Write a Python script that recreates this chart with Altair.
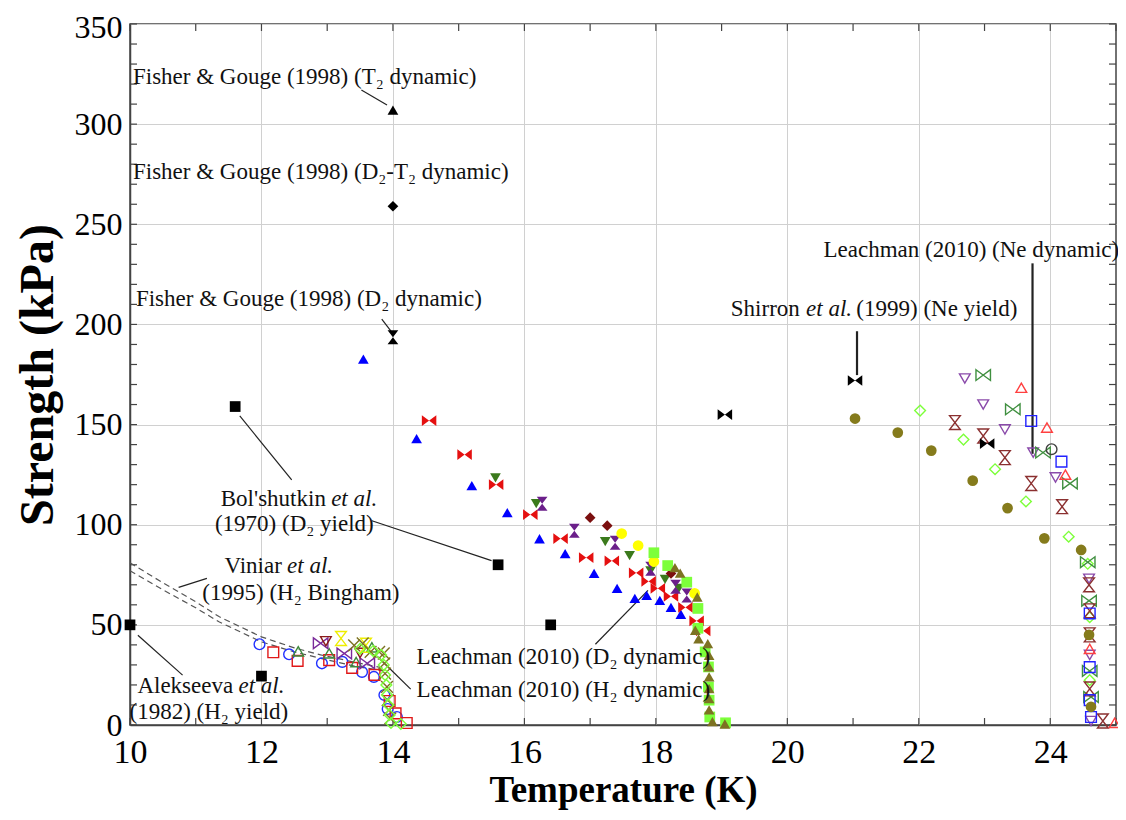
import altair as alt
import pandas as pd

# ---------------- axis ticks ----------------
X_LABEL_TICKS = [10, 12, 14, 16, 18, 20, 22, 24]
Y_LABEL_TICKS = [0, 50, 100, 150, 200, 250, 300, 350]
X_MINOR = list(range(10, 26))
Y_MINOR = list(range(0, 351, 10))

# ---------------- shapes ----------------
BOWTIE = "M-1.35,-1L1.35,1L1.35,-1L-1.35,1Z"
HOURGLASS = "M-1,-1.3L1,-1.3L-1,1.3L1,1.3Z"
XCROSS = "M-1.1,-1.1L1.1,1.1M1.1,-1.1L-1.1,1.1"

# ---------------- single-point / yield data (black) ----------------
FISHER_T2_T = [14.0]; FISHER_T2_S = [307]
FISHER_DT_T = [14.0]; FISHER_DT_S = [259]
FISHER_D2_T = [14.0]; FISHER_D2_S = [193.6]
BOLSHUTKIN_T = [11.6, 15.6, 16.4]; BOLSHUTKIN_S = [159, 80, 50]
ALEKSEEVA_T = [10.0, 12.0]; ALEKSEEVA_S = [50, 24.4]
SHIRRON_T = [19.05, 21.03, 23.04]; SHIRRON_S = [155, 172, 140.5]

# ---------------- D2 dynamic (filled) ----------------
D2_BLUE_T = [13.55, 14.36, 15.2, 15.74, 16.23, 16.62, 17.06, 17.41, 17.68, 17.86, 18.06, 18.23, 18.38]
D2_BLUE_S = [182.7, 143, 119.5, 106, 93, 85.6, 75.7, 68.2, 63.2, 64.7, 62.2, 58.7, 55.3]
D2_RED_T = [14.55, 15.09, 15.57, 16.09, 16.55, 16.94, 17.33, 17.7, 17.89, 18.03, 18.23, 18.45, 18.62, 18.72]
D2_RED_S = [152, 135, 120, 105, 93, 83.6, 82, 76, 71.7, 68.2, 64.2, 58.7, 52, 47]
D2_DKGREEN_T = [15.56, 16.18, 17.23, 17.6, 17.92, 18.14, 18.35]
D2_DKGREEN_S = [123.4, 110.5, 91.6, 84.6, 77, 72.7, 68.2]
D2_PURPLE_T = [16.27, 16.76, 17.38, 17.92, 18.3, 18.47]
D2_PURPLE_S = [110.5, 97, 91, 78, 69, 64.7]
D2_MAROON_T = [17.0, 17.26, 18.23]
D2_MAROON_S = [103.5, 99.5, 75.7]
D2_YELLOW_T = [17.48, 17.73, 17.97, 18.59]
D2_YELLOW_S = [95.6, 89.6, 81.6, 65.7]
D2_LTGREEN_T = [17.97, 18.18, 18.47, 18.64, 18.64, 18.75, 18.8, 18.8, 18.81, 18.82, 19.06]
D2_LTGREEN_S = [86, 79.6, 71.3, 58.2, 48.3, 36.5, 29, 19, 12.4, 4, 1.1]
D2_OLIVE_T = [18.29, 18.37, 18.63, 18.6, 18.65, 18.79, 18.81, 18.81, 18.81, 18.81, 18.81, 18.81, 18.86, 19.05]
D2_OLIVE_S = [78.6, 75.8, 63.9, 47.3, 43, 40.6, 34.8, 29, 24, 18.2, 13.2, 7.5, 1.7, 0.5]

# ---------------- H2 dynamic (open) ----------------
H2_BLUE_T = [11.97, 12.42, 12.92, 13.23, 13.53, 13.71, 13.87, 13.92, 14.06]
H2_BLUE_S = [40.3, 35.3, 30.8, 31.5, 26.5, 24, 15, 8, 4]
H2_RED_T = [12.18, 12.55, 13.03, 13.38, 13.72, 13.95, 14.04, 14.21]
H2_RED_S = [36.3, 32, 32.4, 28.5, 25, 12, 5.8, 1]
H2_GREEN_T = [12.56, 13.03, 13.44, 13.68]
H2_GREEN_S = [36.8, 35.8, 31.4, 38.8]
H2_PURPLE_T = [12.9, 13.26, 13.61]
H2_PURPLE_S = [40.8, 35.7, 30.8]
H2_MAROON_T = [12.98, 13.5]
H2_MAROON_S = [41.8, 36]
H2_YELLOW_T = [13.21, 13.59]
H2_YELLOW_S = [43.2, 39.8]
H2_LTGREEN_T = [13.5, 13.7, 13.82, 13.86, 13.88, 13.9, 13.91, 13.93, 13.95, 13.97, 14.12]
H2_LTGREEN_S = [38, 37, 35, 30, 25, 20, 15, 10, 5, 1, 0.5]
H2_OLIVE_T = [13.41, 13.54, 13.66, 13.79, 13.86, 13.87, 13.88, 13.91, 13.92, 13.94, 13.96]
H2_OLIVE_S = [39.8, 40.7, 36.5, 36.5, 35.7, 30.8, 25.7, 19, 12.4, 7.5, 3.3]

# ---------------- Ne dynamic ----------------
NE_OLIVE_T = [21.03, 21.68, 22.19, 22.82, 23.35, 23.91, 24.47, 24.59, 24.62]
NE_OLIVE_S = [153, 146, 137, 122, 108.3, 93.2, 87.4, 45, 9.1]
NE_LTGREEN_T = [22.02, 22.68, 23.16, 23.63, 24.28, 24.57, 24.6, 24.6]
NE_LTGREEN_S = [157, 142.5, 127.7, 111.6, 94, 80.5, 53.8, 22.4]
NE_PURPLE_T = [22.7, 22.98, 23.31, 23.74, 24.08, 24.59, 24.6, 24.62]
NE_PURPLE_S = [173, 160, 147.6, 136, 123.6, 73, 35, 2]
NE_GREEN_T = [22.98, 23.43, 23.89, 24.3, 24.57, 24.59, 24.6, 24.62]
NE_GREEN_S = [174.7, 157.6, 136, 120.6, 81.3, 62, 27, 14]
NE_BROWN_T = [22.55, 22.98, 23.31, 23.71, 24.18, 24.59, 24.6, 24.6, 24.6, 24.8]
NE_BROWN_S = [151, 144.3, 133.5, 120.6, 109, 70, 57, 45, 18, 2]
NE_RED_T = [23.56, 23.95, 24.23, 24.6, 24.98]
NE_RED_S = [168.4, 148.5, 125, 38, 1.1]
NE_BLUE_T = [23.71, 24.17, 24.6, 24.6, 24.6, 24.62]
NE_BLUE_S = [151.8, 131.5, 55.7, 28.9, 12.4, 4]
NE_GRAY_T = [24.02]
NE_GRAY_S = [137.7]

# ---------------- Viniar Bingham curves ----------------
VINIAR_T = [10, 10.5, 11, 11.36, 12, 12.5, 12.9, 13.4, 13.85]
VINIAR_UPPER_S = [81, 71, 61.5, 54, 44, 38.5, 35, 31.5, 28.5]
VINIAR_LOWER_S = [77, 67.5, 58.5, 51.4, 41.5, 36.5, 33.3, 29.5, 27]

# ---------------- leader lines ----------------
LEADER_T1 = [13.52, 13.83, 11.67, 13.68, 10.74, 10.12, 17.08, 14.27, 21.06, 23.73]
LEADER_S1 = [317.1, 202.6, 154.3, 102.0, 68.7, 44.8, 40.3, 17.9, 196.6, 230.5]
LEADER_T2 = [13.91, 13.97, 12.46, 15.5, 11.17, 10.8, 17.88, 13.76, 21.06, 23.73]
LEADER_S2 = [309.6, 196.6, 122.4, 82.1, 73.2, 24.9, 67.2, 34.3, 174.7, 135.4]
LEADER_W = [1.2, 1.2, 1.2, 1.2, 1.2, 1.2, 1.2, 1.2, 2.2, 2.2]

# ---------------- annotation texts ----------------
TXT = ["Fisher & Gouge (1998) (T₂ dynamic)",
       "Fisher & Gouge (1998) (D₂-T₂ dynamic)",
       "Fisher & Gouge (1998) (D₂ dynamic)",
       "Bol'shutkin", "et al.", "(1970) (D₂ yield)",
       "Viniar", "et al.", "(1995) (H₂ Bingham)",
       "Alekseeva", "et al.", "(1982) (H₂ yield)",
       "Leachman (2010) (D₂ dynamic)",
       "Leachman (2010) (H₂ dynamic)",
       "Shirron", "et al.", "(1999) (Ne yield)",
       "Leachman (2010) (Ne dynamic)"]
TXT_T = [10.045, 10.045, 10.09, 12.98, 13.06, 12.5, 12.31, 12.39, 12.6, 11.57, 11.65, 11.2,
         14.36, 14.36, 20.19, 20.285, 21.05, 20.55]
TXT_S = [323.5, 276.3, 212.5, 113, 113, 100.5, 79.6, 79.6, 65.7, 19.6, 19.6, 6.4,
         33.8, 17.4, 207.6, 207.6, 207.6, 237.4]
TXT_ALIGN = ["left", "left", "left", "right", "left", "center", "right", "left", "center",
             "right", "left", "center", "left", "left", "right", "left", "left", "left"]
TXT_ITALIC = [False, False, False, False, True, False, False, True, False,
              False, True, False, False, False, False, True, False, False]

FONT = "Liberation Serif"
W, H = 986, 701

SERIES = [
    (NE_OLIVE_T, NE_OLIVE_S, "#857b1c", "circle", True),
    (NE_LTGREEN_T, NE_LTGREEN_S, "#7dff3a", "diamond", False),
    (NE_PURPLE_T, NE_PURPLE_S, "#8a4aaa", "triangle-down", False),
    (NE_GREEN_T, NE_GREEN_S, "#3f8f3f", BOWTIE, False),
    (NE_BROWN_T, NE_BROWN_S, "#8b3030", HOURGLASS, False),
    (NE_RED_T, NE_RED_S, "#ff4040", "triangle-up", False),
    (NE_BLUE_T, NE_BLUE_S, "#2222ff", "square", False),
    (NE_GRAY_T, NE_GRAY_S, "#404040", "circle", False),
    (H2_BLUE_T, H2_BLUE_S, "#2030ff", "circle", False),
    (H2_RED_T, H2_RED_S, "#e01818", "square", False),
    (H2_GREEN_T, H2_GREEN_S, "#3d8a3d", "triangle-up", False),
    (H2_PURPLE_T, H2_PURPLE_S, "#7a2a9a", BOWTIE, False),
    (H2_MAROON_T, H2_MAROON_S, "#8b1a1a", "triangle-down", False),
    (H2_YELLOW_T, H2_YELLOW_S, "#eeee00", HOURGLASS, False),
    (H2_OLIVE_T, H2_OLIVE_S, "#7d7222", XCROSS, False),
    (H2_LTGREEN_T, H2_LTGREEN_S, "#7dff3a", "diamond", False),
    (D2_BLUE_T, D2_BLUE_S, "#0000ff", "triangle-up", True),
    (D2_RED_T, D2_RED_S, "#e51010", BOWTIE, True),
    (D2_DKGREEN_T, D2_DKGREEN_S, "#3b7a1c", "triangle-down", True),
    (D2_PURPLE_T, D2_PURPLE_S, "#6b1f8a", HOURGLASS, True),
    (D2_MAROON_T, D2_MAROON_S, "#7b0f0f", "diamond", True),
    (D2_YELLOW_T, D2_YELLOW_S, "#ffff00", "circle", True),
    (D2_LTGREEN_T, D2_LTGREEN_S, "#7dff3a", "square", True),
    (D2_OLIVE_T, D2_OLIVE_S, "#7d7222", "triangle-up", True),
    (FISHER_T2_T, FISHER_T2_S, "#000000", "triangle-up", True),
    (FISHER_DT_T, FISHER_DT_S, "#000000", "diamond", True),
    (FISHER_D2_T, FISHER_D2_S, "#000000", HOURGLASS, True),
    (BOLSHUTKIN_T, BOLSHUTKIN_S, "#000000", "square", True),
    (ALEKSEEVA_T, ALEKSEEVA_S, "#000000", "square", True),
    (SHIRRON_T, SHIRRON_S, "#000000", BOWTIE, True),
]

rows = []
for order, (ts, ss, col, shp, filled) in enumerate(SERIES):
    for t, s in zip(ts, ss):
        rows.append({"T": t, "S": s, "color": col, "shape": shp, "filled": filled, "o": order})
pts = pd.DataFrame(rows)

xscale = alt.Scale(domain=[10, 25], nice=False, zero=False)
yscale = alt.Scale(domain=[0, 350], nice=False)

xaxis = alt.Axis(values=X_LABEL_TICKS, title="Temperature (K)", ticks=False, grid=True,
                 labelFontSize=34, labelFont=FONT, labelPadding=10, labelColor="black",
                 labelFlush=False, labelOverlap=False,
                 titleFont=FONT, titleFontSize=37, titleFontWeight="bold", titleColor="black",
                 titlePadding=3, domainColor="#444", domainWidth=1.5,
                 gridColor="#d0d0d0", gridWidth=1)
yaxis = alt.Axis(values=Y_LABEL_TICKS, title="Strength (kPa)", ticks=False, grid=True,
                 labelFontSize=32, labelFont=FONT, labelPadding=8, labelColor="black",
                 labelFlush=False, labelOverlap=False,
                 labelOffset={"condition": {"test": "datum.value == 350", "value": 3}, "value": 0},
                 titleFont=FONT, titleFontSize=48, titleFontWeight="bold", titleColor="black",
                 titlePadding=12, domainColor="#444", domainWidth=1.5,
                 gridColor="#d0d0d0", gridWidth=1)


def X(field="T"):
    return alt.X(f"{field}:Q", scale=xscale, axis=xaxis, title="Temperature (K)")


def Y(field="S"):
    return alt.Y(f"{field}:Q", scale=yscale, axis=yaxis, title="Strength (kPa)")


# inward minor ticks
xt = pd.DataFrame({"T": X_MINOR})
yt = pd.DataFrame({"S": Y_MINOR})
tick_style = dict(color="#444", strokeWidth=1.2)
ticks_bottom = alt.Chart(xt).mark_rule(**tick_style).encode(x=X(), y=alt.value(H), y2=alt.value(H - 7))
ticks_top = alt.Chart(xt).mark_rule(**tick_style).encode(x=X(), y=alt.value(0), y2=alt.value(7))
ticks_left = alt.Chart(yt).mark_rule(**tick_style).encode(y=Y(), x=alt.value(0), x2=alt.value(7))
ticks_right = alt.Chart(yt).mark_rule(**tick_style).encode(y=Y(), x=alt.value(W - 7), x2=alt.value(W))

# Viniar dashed curves
vin = pd.DataFrame({"T": VINIAR_T * 2, "S": VINIAR_UPPER_S + VINIAR_LOWER_S,
                    "line": ["u"] * len(VINIAR_T) + ["l"] * len(VINIAR_T)})
viniar = alt.Chart(vin).mark_line(color="#555", strokeWidth=1.2, strokeDash=[6, 4]).encode(
    x=X(), y=Y(), detail="line:N")

# leader lines
ld = pd.DataFrame({"T": LEADER_T1, "S": LEADER_S1, "T2": LEADER_T2, "S2": LEADER_S2, "w": LEADER_W})
leaders = alt.Chart(ld).mark_rule(color="#222").encode(
    x=X(), y=Y(), x2="T2:Q", y2="S2:Q",
    strokeWidth=alt.StrokeWidth("w:Q", scale=None))

open_pts = alt.Chart(pts[~pts.filled]).mark_point(filled=False, size=115, strokeWidth=1.4, opacity=1).encode(
    x=X(), y=Y(),
    color=alt.Color("color:N", scale=None),
    shape=alt.Shape("shape:N", scale=None),
    order="o:Q")
filled_pts = alt.Chart(pts[pts.filled]).mark_point(filled=True, size=115, opacity=1).encode(
    x=X(), y=Y(),
    color=alt.Color("color:N", scale=None),
    shape=alt.Shape("shape:N", scale=None),
    order="o:Q")

td = pd.DataFrame({"txt": TXT, "T": TXT_T, "S": TXT_S, "align": TXT_ALIGN, "it": TXT_ITALIC})
text_layers = []
for al in ["left", "center", "right"]:
    for it in [False, True]:
        sub = td[(td["align"] == al) & (td["it"] == it)][["txt", "T", "S"]]
        if len(sub) == 0:
            continue
        kw = dict(align=al, baseline="middle", font=FONT, fontSize=23, color="#111")
        if it:
            kw["fontStyle"] = "italic"
        text_layers.append(alt.Chart(sub).mark_text(**kw).encode(x=X(), y=Y(), text="txt:N"))

chart = alt.layer(ticks_bottom, ticks_top, ticks_left, ticks_right, viniar, leaders,
                  open_pts, filled_pts, *text_layers).properties(
    width=W, height=H,
    autosize=alt.AutoSizeParams(type="none"),
    padding={"left": 122, "top": 16, "right": 2, "bottom": 87},
    background="white",
).configure_view(stroke="#444", strokeWidth=1.5)

chart.save("out.html", embed_options={"renderer": "svg", "actions": False})
